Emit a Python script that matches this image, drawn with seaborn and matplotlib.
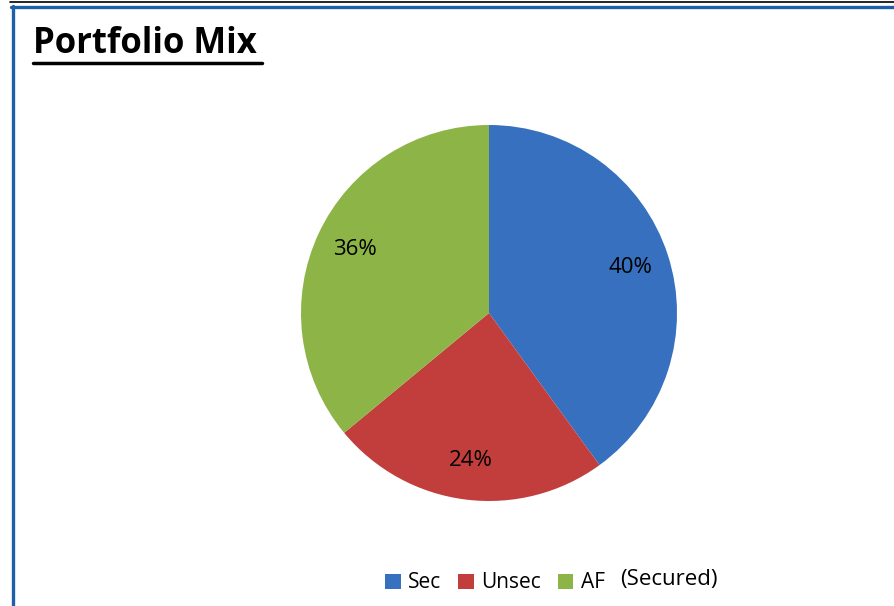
import matplotlib
matplotlib.use('Agg')
import matplotlib.pyplot as plt
from matplotlib.lines import Line2D
import seaborn as sns

categories = ['Sec', 'Unsec', 'AF']
shares = [40, 24, 36]
colors = ['#3670BE', '#C23E3C', '#8DB446']

sns.set_style('white')
plt.rcParams['font.family'] = ['Open Sans', 'DejaVu Sans']
plt.rcParams['text.color'] = 'black'

W, H = 894, 606
fig = plt.figure(figsize=(W / 100, H / 100), dpi=100)

# frame lines like the original slide
fig.add_artist(Line2D([10 / W, 1], [1 - 1.5 / H, 1 - 1.5 / H], color='black', lw=1.2))
fig.add_artist(Line2D([11 / W, 1], [1 - 6.5 / H, 1 - 6.5 / H], color='#1F5FA8', lw=2.4))
fig.add_artist(Line2D([12.5 / W, 12.5 / W], [0, 1 - 5.5 / H], color='#1F5FA8', lw=2.4))

cx, cy, r = 489, 313, 188
ax = fig.add_axes([(cx - r) / W, (H - cy - r) / H, 2 * r / W, 2 * r / H])
wedges, texts, autotexts = ax.pie(shares, colors=colors, startangle=90, counterclock=False,
                                  autopct='%d%%', pctdistance=0.79,
                                  wedgeprops={'linewidth': 0},
                                  textprops={'fontsize': 16, 'color': 'black'})
ax.set_xlim(-1, 1)
ax.set_ylim(-1, 1)
ax.set_aspect('equal')
ax.axis('off')

fig.text(33 / W, 1 - 44 / H, 'Portfolio Mix', fontsize=25, fontweight='bold',
         va='center', ha='left', color='black')
fig.add_artist(Line2D([33 / W, 262 / W], [1 - 63 / H, 1 - 63 / H], color='black', lw=2.5))

fig.legend(wedges, categories, loc='center', bbox_to_anchor=(495 / W, 1 - 583 / H),
           ncol=3, frameon=False, fontsize=15, handlelength=0.75, handleheight=0.75,
           handletextpad=0.35, columnspacing=0.8, labelcolor='black')
fig.text(620 / W, 1 - 579 / H, '(Secured)', fontsize=16, va='center', ha='left', color='black')

fig.savefig('out.png', dpi=100)
